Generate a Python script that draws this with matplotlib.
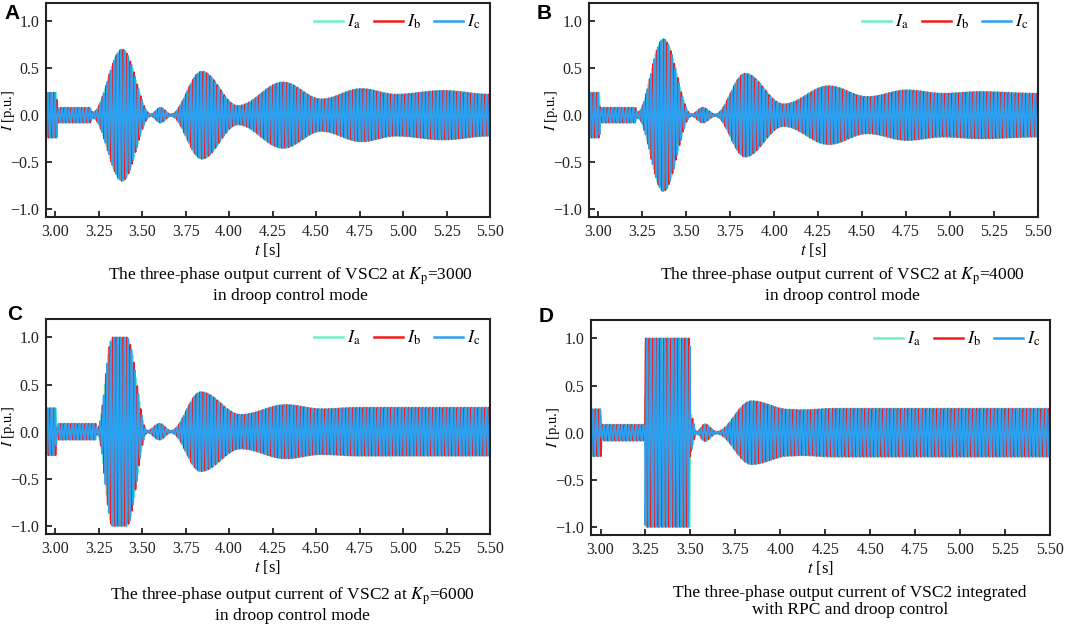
import numpy as np
import matplotlib
matplotlib.use("Agg")
import matplotlib.pyplot as plt

plt.rcParams['font.family'] = ['Liberation Serif', 'DejaVu Serif']
plt.rcParams['mathtext.fontset'] = 'stix'

# ---------------- data (envelope knots) ----------------
freq_hz = 50.0
phase_names = [r'$I_\mathrm{a}$', r'$I_\mathrm{b}$', r'$I_\mathrm{c}$']
phase_colors = ['#6ff0c4', '#f01c1c', '#2aa2f2']
phase_shift_deg = [0.0, -120.0, 120.0]

tA = [2.947, 3.008, 3.014, 3.022, 3.20, 3.215, 3.385, 3.55, 3.605, 3.665, 3.843, 4.05, 4.31, 4.53, 4.76, 4.96, 5.23, 5.5]
aA = [0.24, 0.24, 0.03, 0.08, 0.08, 0.03, 0.70, 0.01, 0.08, 0.01, 0.465, 0.10, 0.35, 0.17, 0.28, 0.22, 0.26, 0.22]

tB = [2.947, 3.006, 3.012, 3.02, 3.21, 3.222, 3.37, 3.53, 3.594, 3.664, 3.835, 4.053, 4.31, 4.53, 4.755, 4.96, 5.17, 5.5]
aB = [0.24, 0.24, 0.03, 0.08, 0.08, 0.03, 0.81, 0.01, 0.08, 0.01, 0.443, 0.117, 0.31, 0.195, 0.266, 0.23, 0.248, 0.23]

tC = [2.947, 3.004, 3.010, 3.018, 3.232, 3.242, 3.33, 3.41, 3.53, 3.60, 3.665, 3.837, 4.067, 4.325, 4.53, 4.75, 5.5]
aC = [0.25, 0.25, 0.03, 0.085, 0.085, 0.03, 1.0, 1.0, 0.01, 0.085, 0.01, 0.42, 0.18, 0.284, 0.24, 0.255, 0.255]

tD = [2.947, 3.002, 3.006, 3.012, 3.247, 3.249, 3.497, 3.499, 3.535, 3.58, 3.645, 3.84, 4.05, 4.12, 4.3, 5.5]
aD = [0.25, 0.25, 0.03, 0.085, 0.085, 1.0, 1.0, 0.2, 0.01, 0.09, 0.01, 0.335, 0.245, 0.24, 0.255, 0.255]

panel_letters = ['A', 'B', 'C', 'D']
captions = [
    'The three-phase output current of VSC2 at $K_\\mathrm{p}$=3000\nin droop control mode',
    'The three-phase output current of VSC2 at $K_\\mathrm{p}$=4000\nin droop control mode',
    'The three-phase output current of VSC2 at $K_\\mathrm{p}$=6000\nin droop control mode',
    'The three-phase output current of VSC2 integrated\nwith RPC and droop control',
]
x_ticks = [3.00, 3.25, 3.50, 3.75, 4.00, 4.25, 4.50, 4.75, 5.00, 5.25, 5.50]
y_ticks = [-1.0, -0.5, 0.0, 0.5, 1.0]

envelopes = [(tA, aA), (tB, aB), (tC, aC), (tD, aD)]


def envelope(t, tk, ak):
    tk = np.asarray(tk); ak = np.asarray(ak)
    idx = np.clip(np.searchsorted(tk, t, side='right') - 1, 0, len(tk) - 2)
    s = np.clip((t - tk[idx]) / (tk[idx + 1] - tk[idx]), 0, 1)
    w = (1 - np.cos(np.pi * s)) / 2
    return ak[idx] + (ak[idx + 1] - ak[idx]) * w


W, H = 1065, 627
fig = plt.figure(figsize=(W / 100, H / 100), dpi=100)

# axes boxes in pixels: left, top, right, bottom
boxes = [(46, 3, 490, 217), (589, 3, 1038, 217), (46, 319, 490, 534), (591, 320, 1050, 535)]
letter_pos = [(4, 4), (537, 4), (7, 305), (539, 307)]
caption_pos = [(290, 265), (842, 265), (292, 585), (850, 585)]
ylabel_x = [9, 552, 9, 554]

t = np.arange(2.947, 5.5, 1 / 20000.0)

for i in range(4):
    l, tp, r, b = boxes[i]
    ax = fig.add_axes([l / W, 1 - b / H, (r - l) / W, (b - tp) / H])
    tk, ak = envelopes[i]
    env = envelope(t, tk, ak)
    for name, col, sh in zip(phase_names, phase_colors, phase_shift_deg):
        y = env * np.sin(2 * np.pi * freq_hz * t + np.deg2rad(sh))
        ax.plot(t, y, color=col, lw=1.25, label=name)
    ax.set_xlim(2.947, 5.5)
    ax.set_ylim(-1.085, 1.195)
    ax.set_xticks(x_ticks)
    ax.set_xticklabels([f'{v:.2f}' for v in x_ticks])
    ax.set_yticks(y_ticks)
    ax.set_yticklabels([f'{v:.1f}'.replace('-', '\u2212') for v in y_ticks])
    ax.tick_params(direction='in', length=4, width=1.3, labelsize=11.5,
                   top=False, right=False, colors='#222222', pad=5)
    for sp in ax.spines.values():
        sp.set_linewidth(1.5)
        sp.set_color('#222222')
    ax.set_xlabel('$t$ [s]', fontsize=12, labelpad=1)
    fig.text(ylabel_x[i] / W, 1 - (tp + b) / 2 / H, '$I$ [p.u.]', fontsize=10.5,
             rotation=90, ha='center', va='center')
    leg = ax.legend(loc='upper right', ncol=3, frameon=False, fontsize=13,
                    handlelength=1.6, columnspacing=0.75, handletextpad=0.2,
                    borderaxespad=0.15, bbox_to_anchor=(1.0, 1.0))
    for lh in leg.get_lines():
        lh.set_linewidth(1.8)
    fig.text(letter_pos[i][0] / W, 1 - letter_pos[i][1] / H, panel_letters[i],
             family='Liberation Sans', fontweight='bold', fontsize=15,
             ha='left', va='top')
    fig.text(caption_pos[i][0] / W, 1 - caption_pos[i][1] / H, captions[i],
             fontsize=12.5, ha='center', va='top', linespacing=1.12)

fig.savefig('out.png', dpi=100)
